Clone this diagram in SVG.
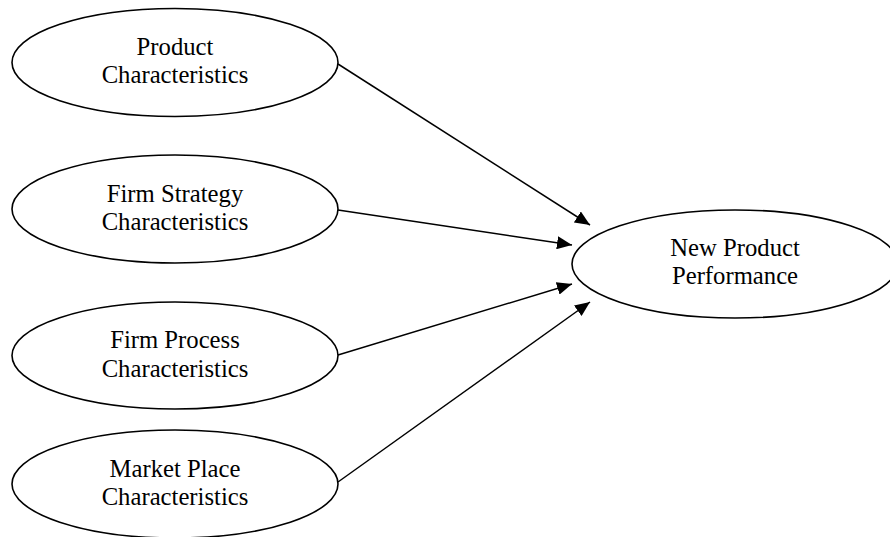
<svg xmlns="http://www.w3.org/2000/svg" width="890" height="537" viewBox="0 0 890 537">
<defs>
<style>
.node ellipse{fill:#fff;stroke:#000;stroke-width:1.6}
.node text{font-family:"Liberation Serif","Times New Roman",serif;font-size:24.7px;fill:#000;text-anchor:middle}
.edge{stroke:#000;stroke-width:1.5;fill:none;marker-end:url(#arrow)}
</style>
<marker id="arrow" markerUnits="userSpaceOnUse" markerWidth="15" markerHeight="13" refX="15" refY="6.5" orient="auto">
<path d="M0,0 L15,6.5 L0,13 z" fill="#000"/>
</marker>
</defs>
<rect width="890" height="537" fill="#fff"/>
<g id="connectors">
<line class="edge" x1="338" y1="64" x2="590" y2="225"/>
<line class="edge" x1="338" y1="210" x2="572" y2="245"/>
<line class="edge" x1="338" y1="355" x2="572" y2="284"/>
<line class="edge" x1="338" y1="482" x2="590" y2="302"/>
</g>
<g id="product" class="node">
<ellipse cx="175" cy="62.5" rx="163" ry="54"/>
<text x="175" y="55">Product</text>
<text x="175" y="83">Characteristics</text>
</g>
<g id="strategy" class="node">
<ellipse cx="175" cy="209" rx="163" ry="54"/>
<text x="175" y="202">Firm Strategy</text>
<text x="175" y="230">Characteristics</text>
</g>
<g id="process" class="node">
<ellipse cx="175" cy="355.5" rx="163" ry="53.5"/>
<text x="175" y="348">Firm Process</text>
<text x="175" y="377">Characteristics</text>
</g>
<g id="market" class="node">
<ellipse cx="175" cy="484" rx="163" ry="54"/>
<text x="175" y="477">Market Place</text>
<text x="175" y="505">Characteristics</text>
</g>
<g id="performance" class="node">
<ellipse cx="735" cy="264" rx="163" ry="54"/>
<text x="735" y="256">New Product</text>
<text x="735" y="284">Performance</text>
</g>
</svg>
